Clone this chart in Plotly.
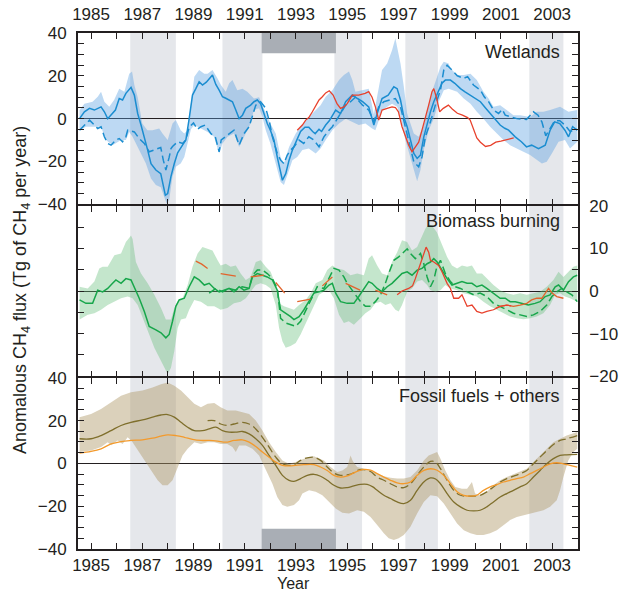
import plotly.graph_objects as go

# ---------------- data ----------------
YEAR_TICKS = [1985, 1987, 1989, 1991, 1993, 1995, 1997, 1999, 2001, 2003]
GREY_START = [1986.53, 1990.13, 1994.5, 1997.27, 2002.11]
GREY_END = [1988.31, 1991.69, 1995.58, 1998.54, 2003.44]
PINATUBO = [1991.66, 1994.56]

WET_MAIN = [(1984.55,0),(1984.74,3.2),(1984.94,4.8),(1985.13,4.0),(1985.39,5.5),(1985.52,3.2),(1985.65,0),(1985.8,2),(1985.95,4),(1986.1,9.4),(1986.23,8.7),(1986.36,11.8),(1986.56,14.6),(1986.69,11),(1986.82,2.4),(1986.95,-3),(1987.08,-8.5),(1987.21,-14.7),(1987.34,-21),(1987.53,-24),(1987.72,-25.7),(1987.82,-31),(1987.9,-35.8),(1987.99,-35),(1988.12,-27),(1988.25,-21),(1988.38,-16),(1988.57,-12.4),(1988.7,-10),(1988.83,0),(1988.96,11),(1989.09,14),(1989.22,17.2),(1989.35,15.7),(1989.5,17),(1989.74,20.4),(1989.87,16),(1990.0,13.3),(1990.13,10.2),(1990.26,9.5),(1990.4,8.5),(1990.52,7.9),(1990.65,4),(1990.78,0),(1990.91,1.6),(1991.04,4.8),(1991.23,6.3),(1991.36,7.9),(1991.49,8.7),(1991.62,7),(1991.75,2.4),(1991.88,-2.3),(1992.0,-5.4),(1992.14,-10),(1992.27,-18),(1992.4,-25.7),(1992.47,-28.8),(1992.6,-25.7),(1992.73,-19.4),(1992.86,-14.7),(1993.05,-9),(1993.18,-6),(1993.35,-4),(1993.5,-4),(1993.65,-6),(1993.75,-7),(1993.9,-5),(1994.0,-6),(1994.16,-3),(1994.3,-1),(1994.55,4),(1994.74,2.4),(1994.94,7.9),(1995.2,11),(1995.4,9.4),(1995.6,7.9),(1995.84,5.5),(1996.04,-3),(1996.17,2.4),(1996.36,9.4),(1996.6,11),(1996.82,14.9),(1996.95,14),(1997.08,8.7),(1997.21,0.8),(1997.34,-3.8),(1997.47,-10),(1997.6,-16.3),(1997.73,-18.6),(1997.86,-17),(1997.99,-8.5),(1998.12,-2.3),(1998.25,3.2),(1998.38,7.9),(1998.57,12.6),(1998.7,16.5),(1998.83,18),(1999.03,18),(1999.2,16.5),(1999.42,14),(1999.6,12.5),(1999.8,11),(2000.0,9.5),(2000.2,7.9),(2000.4,5),(2000.58,2.4),(2000.78,-0.5),(2000.97,-3),(2001.15,-4.5),(2001.3,-5.4),(2001.56,-8.5),(2001.8,-10.8),(2002.0,-13.2),(2002.2,-12.4),(2002.47,-14),(2002.73,-12.4),(2002.92,-5.4),(2003.1,-1.5),(2003.3,-2.3),(2003.5,-5.4),(2003.64,-8.5),(2003.8,-3.8),(2003.98,-5.4)]
WET_DASH = [(1984.55,-5.4),(1984.74,-3),(1984.94,-0.7),(1985.13,-3),(1985.26,-4.6),(1985.39,-3.8),(1985.52,-8.5),(1985.65,-11.6),(1985.78,-12.4),(1985.97,-10),(1986.1,-9.3),(1986.23,-10.8),(1986.36,-8.5),(1986.43,-5.4),(1986.69,-6.2),(1986.88,-9.3),(1987.08,-11.6),(1987.27,-15.5),(1987.6,-14),(1987.72,-13.5),(1987.82,-19.4),(1987.92,-24),(1988.05,-18),(1988.12,-14),(1988.18,-13),(1988.38,-10.8),(1988.57,-11.6),(1988.7,-10),(1988.83,-4),(1989.0,-2),(1989.15,-5),(1989.29,-3.8),(1989.45,-3),(1989.68,-7),(1989.85,-8.5),(1990.0,-15.5),(1990.08,-10),(1990.33,-7.7),(1990.58,-5.4),(1990.78,-12.4),(1990.97,-7),(1991.17,-3.8),(1991.3,0.8),(1991.43,6.3),(1991.62,7.9),(1991.82,4.8),(1991.95,-0.7),(1992.08,-8.5),(1992.27,-16.3),(1992.4,-19.4),(1992.53,-21),(1992.66,-17),(1992.79,-14.7),(1992.92,-13.2),(1993.12,-10),(1993.3,-11.6),(1993.5,-8.5),(1993.7,-10),(1993.9,-13.2),(1994.09,-8.5),(1994.29,-5.4),(1994.42,-3.8),(1994.74,2.4),(1994.94,6.3),(1995.13,7.9),(1995.32,10),(1995.6,6.3),(1995.84,4),(1996.04,-1.5),(1996.23,5.5),(1996.43,7.9),(1996.69,8.7),(1996.88,9.4),(1997.08,5.5),(1997.27,-3.8),(1997.47,-13.2),(1997.6,-20.2),(1997.79,-22.5),(1997.92,-17.9),(1998.05,-8.5),(1998.25,-1.5),(1998.44,6.3),(1998.64,13.3),(1998.77,22.7),(1998.9,25),(1999.09,22.7),(1999.3,20),(1999.55,18.8),(1999.7,19.6),(1999.93,15.7),(2000.2,13.3),(2000.35,10.2),(2000.52,7.9),(2000.71,4),(2000.91,2.4),(2001.05,4.3),(2001.17,1.6),(2001.62,0),(2002.0,-0.4),(2002.27,3.2),(2002.45,1.6),(2002.6,-1.5),(2002.75,-8),(2002.9,-5),(2003.1,-1),(2003.3,-1),(2003.5,-3),(2003.7,-6),(2003.98,-5)]
WET_UP = [(1984.55,4),(1984.74,7),(1985.06,7.9),(1985.26,10.2),(1985.39,12.6),(1985.52,7.9),(1985.71,5.5),(1985.9,8.7),(1986.1,14),(1986.3,12.6),(1986.49,21),(1986.6,22),(1986.69,15.7),(1986.82,10),(1987.0,-2.3),(1987.2,-5.4),(1987.4,-5.4),(1987.66,-4.6),(1987.79,-7),(1987.99,-10),(1988.18,-2.3),(1988.31,-0.7),(1988.5,-5.4),(1988.64,-7),(1988.77,-5.4),(1988.9,7),(1989.03,19.6),(1989.22,22.7),(1989.42,21),(1989.55,21),(1989.74,22.7),(1989.94,18.8),(1990.07,15.7),(1990.26,12.6),(1990.39,16.5),(1990.52,18),(1990.71,13.3),(1990.91,14),(1991.1,12.6),(1991.36,9.4),(1991.56,10),(1991.69,6.3),(1991.82,2.4),(1992.0,-2.3),(1992.21,-7),(1992.4,-18),(1992.53,-21),(1992.73,-13.2),(1992.99,-7),(1993.18,-3.8),(1993.57,1.6),(1993.96,6.3),(1994.16,10.2),(1994.42,13.3),(1994.68,18),(1994.87,20.4),(1995.07,22),(1995.2,18),(1995.32,12.6),(1995.6,13.3),(1995.84,14),(1996.04,2),(1996.17,10.2),(1996.36,22.7),(1996.56,25.8),(1996.75,32),(1996.88,37.5),(1996.99,30.5),(1997.08,25.8),(1997.21,14.9),(1997.34,2.4),(1997.47,-2.3),(1997.6,-7),(1997.79,-8.5),(1997.99,-3),(1998.12,4),(1998.31,12.6),(1998.51,19.6),(1998.64,24.2),(1998.77,26.6),(1998.96,25.8),(1999.03,23.5),(1999.29,20.4),(1999.55,20.4),(1999.81,21),(2000.06,18),(2000.32,12.6),(2000.52,9.4),(2000.71,5.5),(2000.97,6.3),(2001.23,4),(2001.49,1.6),(2001.75,1.6),(2002.14,0.8),(2002.4,3.2),(2002.66,3.2),(2002.92,4),(2003.31,5.5),(2003.64,3.2),(2003.98,4)]
WET_LO = [(1984.55,-5.4),(1984.8,-3.8),(1985.06,-3.8),(1985.39,-3.8),(1985.58,-10),(1985.84,-12.4),(1986.17,-10),(1986.36,-10),(1986.49,-6.2),(1986.62,-8.5),(1986.75,-11.6),(1986.95,-16.3),(1987.14,-21),(1987.34,-28),(1987.53,-31),(1987.72,-32),(1987.86,-36.6),(1987.95,-39.7),(1988.05,-38),(1988.18,-27),(1988.31,-22.5),(1988.5,-21),(1988.64,-17.9),(1988.77,-10.8),(1988.9,-5),(1989.03,-3),(1989.29,-4.6),(1989.55,-6.2),(1989.8,-8.5),(1990.0,-16.3),(1990.13,-11.6),(1990.33,-8.5),(1990.58,-7),(1990.78,-13.2),(1990.97,-8.5),(1991.23,-2.3),(1991.36,4),(1991.56,4.8),(1991.69,0.8),(1991.82,-5.4),(1992.0,-11.6),(1992.21,-21),(1992.4,-29.6),(1992.53,-31),(1992.66,-27),(1992.86,-19.4),(1993.05,-17.9),(1993.25,-14.7),(1993.5,-14),(1993.77,-16.3),(1993.96,-14),(1994.16,-10),(1994.42,-5.4),(1994.68,-2.3),(1994.94,0),(1995.2,-1.5),(1995.45,-3),(1995.71,-2.3),(1995.97,-4.6),(1996.1,-5.4),(1996.23,-1),(1996.36,4),(1996.56,5.5),(1996.75,7),(1996.95,5.5),(1997.08,0.8),(1997.27,-10),(1997.47,-17.9),(1997.6,-24),(1997.73,-29.3),(1997.86,-24),(1997.99,-14.7),(1998.18,-5.4),(1998.38,0),(1998.57,7.9),(1998.77,13.3),(1998.96,14),(1999.03,14),(1999.29,12.6),(1999.55,9.4),(1999.81,7),(2000.06,3.2),(2000.32,0),(2000.58,-3.8),(2000.84,-7),(2001.1,-10),(2001.36,-12.4),(2001.62,-14),(2001.88,-15.5),(2002.14,-17),(2002.4,-19.4),(2002.6,-21),(2002.79,-20.2),(2002.99,-16.3),(2003.25,-10.8),(2003.5,-10),(2003.7,-14),(2003.98,-10.8)]
WET_RED = [(1993.05,-5.4),(1993.25,-3),(1993.38,-0.7),(1993.5,0.5),(1993.64,3.2),(1993.77,6.3),(1993.9,8.7),(1994.03,10.2),(1994.16,12),(1994.3,13),(1994.45,11),(1994.6,7),(1994.74,4.8),(1994.87,5.5),(1995.0,7),(1995.2,11),(1995.45,11),(1995.7,11.8),(1995.84,12.6),(1995.97,10),(1996.1,5.5),(1996.23,-0.7),(1996.36,4),(1996.56,4.8),(1996.75,5.5),(1996.88,5.2),(1997.0,3.2),(1997.14,-3.8),(1997.27,-8.5),(1997.4,-12.4),(1997.53,-15.5),(1997.66,-13),(1997.79,-11),(1997.92,-5.4),(1998.05,0),(1998.18,6.3),(1998.31,12.6),(1998.38,14),(1998.48,10),(1998.61,3.2),(1998.75,4.8),(1998.95,6.3),(1999.1,4.5),(1999.3,2.5),(1999.5,1.6),(1999.7,0.5),(1999.8,-0.7),(1999.93,-5.4),(2000.06,-9),(2000.2,-11),(2000.4,-13),(2000.6,-12.5),(2000.8,-11),(2001.0,-10.5),(2001.2,-10),(2001.36,-9.3),(2001.5,-9)]

BB_MAIN = [(1984.55,-2.1),(1984.8,-2.9),(1985.06,-2.9),(1985.26,0.2),(1985.45,-0.2),(1985.65,0.6),(1985.84,1.8),(1985.97,2.6),(1986.17,1.8),(1986.36,2.9),(1986.56,2.6),(1986.69,1),(1986.88,-1.7),(1987.08,-4.8),(1987.27,-8.3),(1987.53,-9.1),(1987.73,-9.8),(1987.92,-11),(1988.05,-10.2),(1988.18,-7.1),(1988.31,-3.6),(1988.44,-2.1),(1988.64,-1.7),(1988.83,1),(1989.03,3.3),(1989.22,2.6),(1989.42,1.4),(1989.61,1.8),(1989.81,0.6),(1990.0,-0.2),(1990.19,0.2),(1990.39,0.6),(1990.58,-0.2),(1990.78,1),(1990.97,0.2),(1991.17,0.6),(1991.3,3.3),(1991.49,4.1),(1991.69,3.7),(1991.88,3.3),(1992.08,2.6),(1992.27,0.2),(1992.4,-4.4),(1992.6,-5.2),(1992.79,-6),(1992.92,-6.7),(1993.12,-6),(1993.31,-4.4),(1993.5,-2.5),(1993.7,-0.5),(1993.9,-0.2),(1994.09,0.2),(1994.29,1.4),(1994.42,1.8),(1994.55,-0.5),(1994.74,-2.5),(1995.0,-2.9),(1995.26,-2.9),(1995.45,-1.3),(1995.65,0.6),(1995.84,2.2),(1995.97,1.8),(1996.17,0.6),(1996.36,-0.2),(1996.56,1),(1996.75,1.8),(1996.95,2.9),(1997.14,4.1),(1997.34,4.5),(1997.53,3.7),(1997.73,4.9),(1997.92,5.3),(1998.12,6.4),(1998.25,6.8),(1998.38,7.6),(1998.51,6.8),(1998.7,4.9),(1998.9,2.9),(1999.09,1.4),(1999.29,1.8),(1999.48,2.2),(1999.68,1.8),(1999.87,1.8),(2000.06,1),(2000.26,1.4),(2000.45,0.6),(2000.71,-0.5),(2000.97,-1.7),(2001.17,-1.7),(2001.36,-2.5),(2001.56,-2.5),(2001.82,-2.9),(2002.07,-3.3),(2002.33,-2.9),(2002.53,-2.5),(2002.73,-1.3),(2002.92,-0.9),(2003.12,1),(2003.25,1.4),(2003.44,0.2),(2003.64,2.2),(2003.83,3.3),(2003.98,3.7)]
BB_DASH = [(1989.61,-0.5),(1989.87,0.6),(1990.13,-0.2),(1990.39,0.6),(1990.65,0.2),(1990.9,1),(1991.17,0.6),(1991.3,3.7),(1991.49,4.9),(1991.69,4.9),(1991.88,4.1),(1992.08,2.9),(1992.27,0.6),(1992.4,-6.4),(1992.6,-7.5),(1992.79,-7.9),(1992.99,-8.3),(1993.18,-7.1),(1993.44,-4),(1993.7,-0.9),(1993.83,1),(1994.09,0.6),(1994.29,2.9),(1994.48,5.3),(1994.68,4.9),(1994.87,3.3),(1995.0,1.8),(1995.13,0.6),(1995.32,-0.9),(1995.52,-2.5),(1995.71,-3.6),(1995.91,-3.6),(1996.1,-2.5),(1996.3,-0.9),(1996.49,1.8),(1996.62,4.1),(1996.82,7.2),(1997.01,8),(1997.2,9.1),(1997.34,9.9),(1997.47,8.8),(1997.66,7.6),(1997.86,8.8),(1997.99,6.4),(1998.12,3.3),(1998.25,1),(1998.38,2.6),(1998.5,5.7),(1998.64,7.2),(1998.83,4.1),(1999.03,2.2),(1999.22,1),(1999.42,0.6),(1999.68,-0.2),(1999.94,-0.9),(2000.19,-0.5),(2000.45,-1.3),(2000.71,-2.9),(2000.97,-3.6),(2001.23,-4.4),(2001.49,-5.2),(2001.75,-5.6),(2002.01,-6),(2002.27,-5.6),(2002.53,-4.8),(2002.79,-3.3),(2002.99,-1.3),(2003.18,-0.2),(2003.38,0.6),(2003.57,-0.2),(2003.77,-0.9),(2003.98,-2.5)]
BB_UP = [(1984.55,1),(1984.87,0.6),(1985.13,2.2),(1985.32,5.3),(1985.45,5.7),(1985.65,5.7),(1985.91,8.4),(1986.17,8.8),(1986.36,11.5),(1986.56,13),(1986.62,12.2),(1986.75,6.8),(1986.95,4.1),(1987.21,1.8),(1987.47,-0.9),(1987.73,-4),(1987.92,-6.7),(1988.12,-6.7),(1988.25,-4),(1988.38,-2.5),(1988.57,-1.7),(1988.77,1.4),(1988.96,5.7),(1989.16,8.8),(1989.35,10.3),(1989.55,9.9),(1989.74,9.5),(1989.94,7.2),(1990.06,6),(1990.26,6.4),(1990.45,5.7),(1990.65,6),(1990.84,4.1),(1991.04,2.6),(1991.23,3.3),(1991.43,6.8),(1991.62,7.2),(1991.82,5.7),(1992.01,4.5),(1992.21,1.4),(1992.34,-2.9),(1992.53,-3.6),(1992.73,-4),(1992.92,-4.4),(1993.12,-3.3),(1993.38,-2.1),(1993.57,-0.5),(1993.77,1.8),(1994.03,2.6),(1994.22,4.9),(1994.42,6),(1994.6,5.3),(1994.87,4.9),(1995.13,3.7),(1995.39,4.1),(1995.65,3.7),(1995.84,7.6),(1995.97,8.4),(1996.17,6),(1996.36,4.1),(1996.56,3.7),(1996.75,6.8),(1996.95,9.1),(1997.14,11.9),(1997.34,11.5),(1997.53,9.5),(1997.73,10.3),(1997.86,11.9),(1998.05,14.6),(1998.18,15.7),(1998.31,15.3),(1998.5,13.8),(1998.7,11.1),(1998.9,8),(1999.09,6),(1999.29,5.3),(1999.48,6),(1999.68,5.7),(1999.87,6),(2000.06,4.1),(2000.26,4.1),(2000.45,2.9),(2000.71,1.4),(2000.97,0.2),(2001.23,-0.5),(2001.49,-0.9),(2001.75,-0.5),(2002.01,-0.9),(2002.27,-0.5),(2002.53,-0.2),(2002.79,1),(2003.05,2.6),(2003.25,4.5),(2003.44,3.3),(2003.64,4.5),(2003.83,5.7),(2003.98,6)]
BB_LO = [(1984.55,-6.7),(1984.87,-5.6),(1985.13,-5.2),(1985.39,-4.4),(1985.65,-3.3),(1985.91,-2.5),(1986.17,-1.7),(1986.43,-1.3),(1986.62,-1.7),(1986.82,-3.3),(1987.08,-7.1),(1987.27,-10.2),(1987.47,-13.3),(1987.66,-15.7),(1987.86,-18),(1987.99,-19.5),(1988.12,-18),(1988.25,-14.1),(1988.38,-8.7),(1988.51,-6.7),(1988.7,-6.4),(1988.83,-4.4),(1989.03,-2.1),(1989.29,-2.5),(1989.55,-3.6),(1989.81,-3.6),(1990.06,-4.4),(1990.32,-4),(1990.58,-2.9),(1990.84,-2.5),(1991.04,-1.7),(1991.23,-0.2),(1991.43,1.4),(1991.62,1.8),(1991.82,1.4),(1992.01,0.6),(1992.21,-3.3),(1992.34,-8.7),(1992.47,-11.8),(1992.6,-13.3),(1992.79,-12.9),(1992.99,-12.2),(1993.18,-10.2),(1993.44,-7.1),(1993.7,-3.6),(1993.9,-0.9),(1994.09,-0.2),(1994.29,0.2),(1994.48,-1.7),(1994.68,-5.6),(1994.87,-7.5),(1995.06,-7.1),(1995.26,-7.9),(1995.52,-6.4),(1995.71,-5.2),(1995.91,-4.4),(1996.1,-2.9),(1996.3,-2.5),(1996.49,-3.3),(1996.69,-2.9),(1996.88,-4.4),(1997.01,-4.8),(1997.14,-3.3),(1997.34,-0.2),(1997.53,0.6),(1997.73,2.2),(1997.92,2.6),(1998.12,1.4),(1998.25,0.2),(1998.44,-0.2),(1998.64,0.2),(1998.83,1.4),(1999.03,0.6),(1999.29,0.2),(1999.55,-0.5),(1999.81,-0.9),(2000.06,-1.3),(2000.32,-2.5),(2000.58,-3.6),(2000.84,-4.4),(2001.1,-5.2),(2001.36,-6),(2001.62,-6.4),(2001.88,-6.6),(2002.14,-6.4),(2002.4,-6),(2002.66,-5.2),(2002.92,-3.3),(2003.12,-0.9),(2003.31,-0.5),(2003.5,-1.3),(2003.7,-1.7),(2003.98,-2.5)]
BB_ORANGE = [(1989.09,7),(1989.32,6.3),(1989.55,5.3),None,(1990.06,4.1),(1990.65,3.5),None,(1991.23,3.3),(1991.75,3.7),None,(1992.21,2),(1992.56,-0.5),None,(1993.05,-2.5),(1993.57,-1.9),None,(1994.03,1.2),(1994.42,3.3),None,(1994.94,1.8),(1995.5,0.2),None,(1996.1,0.2),(1996.56,-0.9),None,(2000.8,-4),(2000.97,-3.6),(2001.23,-3.3),(2001.49,-3.6),(2001.75,-3.3),(2002.01,-2.9),(2002.2,-2.1),(2002.4,-1.7),(2002.6,-1.7),(2002.73,-0.5),(2002.86,0.6),(2003.0,-0.5),(2003.18,-1.3),(2003.44,-1.7)]
BB_RED = [(1996.95,-0.9),(1997.14,0),(1997.4,0.6),(1997.55,1.2),(1997.66,2.9),(1997.79,5.3),(1997.92,7.5),(1998.0,8.8),(1998.08,10.3),(1998.18,9.1),(1998.25,7.2),(1998.38,6.8),(1998.57,6),(1998.7,4.5),(1998.9,1.8),(1999.03,0.6),(1999.16,-1.7),(1999.35,-1.7),(1999.48,-0.9),(1999.68,-3.6),(1999.87,-3.3),(2000.06,-4.8),(2000.26,-5.2),(2000.45,-4.8),(2000.71,-4.4),(2000.97,-3.6),(2001.23,-3.3),(2001.4,-3.5)]

FF_MAIN = [(1984.55,11.5),(1985.0,11.5),(1985.39,13),(1985.78,15.3),(1986.17,17.7),(1986.56,19.2),(1987.01,20.3),(1987.4,21.6),(1987.73,22.6),(1987.99,22.8),(1988.25,21.6),(1988.51,19.2),(1988.77,16.9),(1989.03,15.3),(1989.35,15.3),(1989.61,16.1),(1989.87,16.9),(1990.13,15.3),(1990.39,14.6),(1990.65,14.6),(1990.91,14.9),(1991.17,13.8),(1991.43,11.5),(1991.69,8.4),(1991.95,3.7),(1992.21,-0.9),(1992.47,-5.6),(1992.73,-7.9),(1992.92,-8.4),(1993.18,-7.1),(1993.44,-5.6),(1993.7,-5.1),(1993.96,-6),(1994.22,-7.9),(1994.48,-10.2),(1994.74,-11.5),(1995.0,-11.3),(1995.26,-10.5),(1995.52,-9.8),(1995.78,-9.8),(1996.0,-11),(1996.17,-12.6),(1996.43,-14.9),(1996.69,-16.4),(1996.95,-18),(1997.21,-18.8),(1997.47,-17.2),(1997.73,-12.6),(1997.99,-8.7),(1998.25,-6.8),(1998.45,-7.3),(1998.64,-9.5),(1998.9,-14.1),(1999.16,-18),(1999.42,-20.3),(1999.68,-21.9),(1999.94,-22.2),(2000.19,-21.9),(2000.45,-20.3),(2000.71,-18),(2000.97,-15.7),(2001.23,-14.1),(2001.49,-12.6),(2001.75,-11),(2002.01,-9.5),(2002.27,-6.4),(2002.53,-3.3),(2002.79,-0.2),(2003.05,2.2),(2003.31,3.7),(2003.57,4),(2003.98,4.2)]
FF_DASH = [(1989.55,20),(1989.81,20),(1990.06,18.4),(1990.32,17.7),(1990.58,18.4),(1990.91,19.2),(1991.17,18.4),(1991.43,16.1),(1991.69,12.2),(1991.95,7.6),(1992.21,2.9),(1992.47,-0.2),(1992.73,-0.9),(1992.92,-0.6),(1993.18,1.4),(1993.44,2.6),(1993.7,2.9),(1993.96,1.4),(1994.22,-1.7),(1994.48,-4.5),(1994.74,-5.6),(1995.0,-5.4),(1995.26,-4.4),(1995.39,-3.3),(1995.65,-2.9),(1995.91,-3.8),(1996.17,-6.4),(1996.43,-7.9),(1996.69,-9.5),(1996.95,-11),(1997.21,-11.3),(1997.47,-9.5),(1997.73,-5.6),(1997.99,-1.7),(1998.25,0.9),(1998.45,0.6),(1998.64,-2.5),(1998.9,-7.9),(1999.16,-12.6),(1999.42,-14.9),(1999.68,-15.3),(1999.94,-15.3),(2000.19,-14.9),(2000.45,-13.3),(2000.71,-11),(2000.97,-8.7),(2001.23,-7.1),(2001.49,-6),(2001.75,-4.8),(2002.01,-3.3),(2002.27,-0.2),(2002.53,2.9),(2002.79,6),(2003.05,8.8),(2003.31,10.7),(2003.57,11.5),(2003.98,13)]
FF_ORANGE = [(1984.55,4.8),(1985.0,5.6),(1985.39,6.8),(1985.78,9.1),(1986.17,10.2),(1986.56,10.7),(1987.01,11),(1987.4,11.8),(1987.73,12.7),(1987.99,13.3),(1988.31,13),(1988.64,12.2),(1988.96,11.2),(1989.29,10.7),(1989.61,10.7),(1989.94,10.4),(1990.26,9.9),(1990.58,10.7),(1990.91,11),(1991.17,9.9),(1991.43,7.9),(1991.69,5.3),(1991.95,2.9),(1992.21,0.6),(1992.47,-0.9),(1992.73,-1.2),(1992.99,-0.9),(1993.31,-0.6),(1993.7,-0.6),(1993.96,-1.7),(1994.22,-3.3),(1994.48,-5.6),(1994.74,-6.4),(1994.97,-6),(1995.2,-4.8),(1995.39,-3.7),(1995.65,-2.8),(1995.91,-3.2),(1996.17,-4.8),(1996.43,-6.4),(1996.69,-7.9),(1996.95,-9.1),(1997.21,-9.5),(1997.47,-8.7),(1997.73,-5.6),(1997.99,-3.3),(1998.25,-2.5),(1998.51,-3.2),(1998.77,-5.6),(1999.03,-9.5),(1999.29,-13.3),(1999.55,-14.9),(1999.81,-15.3),(2000.06,-14.9),(2000.32,-12.6),(2000.58,-11),(2000.84,-9.9),(2001.1,-8.7),(2001.36,-7.9),(2001.62,-7.1),(2001.88,-6.4),(2002.14,-4.8),(2002.4,-3.3),(2002.66,-1.7),(2002.92,-0.2),(2003.18,0.3),(2003.44,-0.2),(2003.7,-0.9),(2003.98,-1.7)]
FF_UP = [(1984.55,21.6),(1985.0,23.1),(1985.39,25.4),(1985.78,28.5),(1986.17,31.6),(1986.56,33.2),(1987.01,34),(1987.4,35.5),(1987.73,37),(1987.99,37.8),(1988.25,36.3),(1988.51,34),(1988.77,30.9),(1989.03,27.8),(1989.29,26.2),(1989.55,27.8),(1989.81,28.2),(1990.06,26.2),(1990.32,24.7),(1990.65,24.7),(1990.91,23.9),(1991.17,23.1),(1991.43,20),(1991.69,15.3),(1991.95,9.9),(1992.21,5.3),(1992.47,1.4),(1992.73,-0.2),(1992.99,0.6),(1993.31,2.2),(1993.7,3.3),(1994.09,1.4),(1994.35,-1.7),(1994.61,-4),(1994.81,-3.3),(1995.0,-1.7),(1995.13,3.7),(1995.22,1),(1995.39,-1.7),(1995.65,-2.5),(1995.91,-3.3),(1996.17,-4.8),(1996.43,-6),(1996.69,-6.7),(1996.95,-7.1),(1997.21,-7.1),(1997.47,-6.4),(1997.73,-3.3),(1997.99,1.4),(1998.18,3.7),(1998.38,4.5),(1998.51,5.3),(1998.64,2.2),(1998.83,-3.3),(1999.03,-7.9),(1999.22,-11),(1999.48,-11.8),(1999.68,-11.8),(1999.87,-8.7),(1999.99,-14.1),(2000.19,-14.9),(2000.45,-13.3),(2000.71,-10.2),(2000.97,-7.9),(2001.23,-6.4),(2001.49,-5.1),(2001.75,-4),(2002.01,-2.5),(2002.27,0.6),(2002.53,3.7),(2002.79,6.8),(2003.05,9.9),(2003.31,11.5),(2003.57,13),(2003.98,14.6)]
FF_LO = [(1984.55,5.3),(1985.0,6),(1985.39,7.6),(1985.65,9.9),(1985.78,8.5),(1986.04,10.7),(1986.23,9.1),(1986.43,12.2),(1986.62,9.9),(1986.82,6),(1987.08,1.4),(1987.34,-3.3),(1987.6,-7.9),(1987.79,-10.2),(1987.99,-10.2),(1988.18,-7.9),(1988.38,-1.7),(1988.57,3.7),(1988.77,6.8),(1989.03,9.9),(1989.29,9.1),(1989.55,9.9),(1989.81,9.9),(1990.06,9.1),(1990.32,9.1),(1990.52,7.6),(1990.65,5.3),(1990.78,8.4),(1991.04,8.4),(1991.3,6.8),(1991.56,3.7),(1991.82,-2.5),(1992.08,-9.5),(1992.27,-15.7),(1992.47,-19.5),(1992.66,-20.3),(1992.92,-19.5),(1993.12,-17.2),(1993.25,-14.1),(1993.51,-12.6),(1993.77,-13.3),(1994.03,-14.9),(1994.29,-18),(1994.55,-21.1),(1994.81,-23.1),(1995.07,-23.4),(1995.39,-21.9),(1995.65,-22.6),(1995.91,-25),(1996.17,-28.8),(1996.43,-32.7),(1996.62,-35),(1996.82,-35.8),(1997.01,-35),(1997.21,-33.5),(1997.47,-29.6),(1997.73,-23.4),(1997.99,-18),(1998.25,-14.9),(1998.51,-15.3),(1998.77,-18.8),(1999.03,-23.4),(1999.29,-28.1),(1999.55,-31.2),(1999.81,-32.7),(2000.06,-33.5),(2000.32,-33.5),(2000.58,-32.7),(2000.84,-31.2),(2001.1,-28.8),(2001.36,-26.5),(2001.62,-25),(2001.88,-24.2),(2002.14,-23.4),(2002.4,-22.6),(2002.66,-21.9),(2002.92,-20.3),(2003.18,-17.2),(2003.31,-12.6),(2003.44,-6.4),(2003.63,1.4),(2003.83,5.3),(2003.98,6.8)]

# ---------------- helpers ----------------
def xs(p):
    return [q[0] if q is not None else None for q in p]

def ys(p):
    return [q[1] if q is not None else None for q in p]

INK = "#231f20"
FONT = "Liberation Sans, Arial, Helvetica, sans-serif"

fig = go.Figure()

def band(up, lo, color, xa, ya):
    fig.add_trace(go.Scatter(x=xs(up) + xs(lo)[::-1], y=ys(up) + ys(lo)[::-1],
                             fill="toself", fillcolor=color, line=dict(width=0),
                             mode="lines", hoverinfo="skip", showlegend=False,
                             xaxis=xa, yaxis=ya))

def line(p, color, xa, ya, width=1.5, dash="solid", shape="linear"):
    fig.add_trace(go.Scatter(x=xs(p), y=ys(p), mode="lines",
                             line=dict(color=color, width=width, dash=dash, shape=shape),
                             connectgaps=False, showlegend=False, xaxis=xa, yaxis=ya))

BLUE = "#1b8dd0"
GREEN = "#17a64b"
RED = "#e8412c"
ORANGE2 = "#e2642c"
ORANGE3 = "#f39a2c"
OLIVE = "#7f6f2c"
DASH = "8px,4px"

# Wetlands
band(WET_UP, WET_LO, "rgba(90,160,225,0.40)", "x", "y")
line(WET_DASH, BLUE, "x", "y", dash=DASH)
line(WET_MAIN, BLUE, "x", "y")
line(WET_RED, RED, "x", "y", width=1.3)

# Biomass burning
band(BB_UP, BB_LO, "rgba(100,190,120,0.38)", "x2", "y2")
line(BB_DASH, GREEN, "x2", "y2", dash=DASH)
line(BB_MAIN, GREEN, "x2", "y2")
line(BB_ORANGE, ORANGE2, "x2", "y2", width=1.3)
line(BB_RED, RED, "x2", "y2", width=1.3)

# Fossil fuels + others
band(FF_UP, FF_LO, "rgba(176,152,104,0.45)", "x3", "y3")
line(FF_DASH, OLIVE, "x3", "y3", width=1.3, dash=DASH, shape="spline")
line(FF_MAIN, OLIVE, "x3", "y3", width=1.3, shape="spline")
line(FF_ORANGE, ORANGE3, "x3", "y3", width=1.3, shape="spline")

# grey periods
shapes = []
for a, b in zip(GREY_START, GREY_END):
    shapes.append(dict(type="rect", xref="x", yref="paper", x0=a, x1=b, y0=0, y1=1,
                       fillcolor="#e5e7eb", line=dict(width=0), layer="below"))
shapes.append(dict(type="rect", xref="x", yref="y", x0=PINATUBO[0], x1=PINATUBO[1],
                   y0=30.5, y1=40, fillcolor="#a9aeb5", line=dict(width=0), layer="below"))
shapes.append(dict(type="rect", xref="x3", yref="y3", x0=PINATUBO[0], x1=PINATUBO[1],
                   y0=-40, y1=-30.5, fillcolor="#a9aeb5", line=dict(width=0), layer="below"))

XLW = 1.5
YLW = 1.8
GAP = (XLW / 2) / 516.0   # lets the touching axis lines of neighbouring panels coincide

XR = [1984.49, 2004.01]
def xaxis(side, labels, standoff, **kw):
    d = dict(range=XR, side=side, showticklabels=labels, automargin=False,
             tickvals=YEAR_TICKS, ticktext=[str(v) for v in YEAR_TICKS],
             ticks="inside", ticklen=6, tickwidth=1.2, tickcolor=INK,
             minor=dict(ticks="inside", dtick=1, tick0=1985, ticklen=6, tickwidth=1.2, tickcolor=INK),
             showline=True, linewidth=XLW, linecolor=INK, mirror="ticks",
             showgrid=False, zeroline=False,
             tickfont=dict(size=17, color=INK, family=FONT), ticklabelstandoff=standoff)
    d.update(kw)
    return d

def yaxis(dom, rng, vals, side="left", minor_dt=5):
    return dict(domain=dom, range=rng, side=side, tickvals=vals, automargin=False,
                ticks="inside", ticklen=6, tickwidth=1.2, tickcolor=INK,
                minor=dict(ticks="inside", dtick=minor_dt, tick0=0, ticklen=6, tickwidth=1.2, tickcolor=INK),
                showline=True, linewidth=YLW, linecolor=INK, mirror="ticks",
                showgrid=False, zeroline=True, zerolinecolor=INK, zerolinewidth=1.3,
                tickfont=dict(size=17, color=INK, family=FONT), ticklabelstandoff=6)

fig.update_layout(
    width=624, height=593,
    margin=dict(l=78, r=46, t=33, b=44),
    paper_bgcolor="white", plot_bgcolor="white",
    font=dict(family=FONT, color=INK),
    shapes=shapes,
    xaxis=xaxis("top", True, 4, anchor="y"),
    xaxis2=xaxis("bottom", False, 0, anchor="y2", matches="x"),
    xaxis3=xaxis("bottom", True, 0, anchor="y3", matches="x"),
    yaxis=yaxis([2/3 + GAP, 1], [-40, 40], [-40, -20, 0, 20, 40]),
    yaxis2=yaxis([1/3 + GAP, 2/3 - GAP], [-20, 20], [-20, -10, 0, 10, 20], side="right"),
    yaxis3=yaxis([0, 1/3 - GAP], [-40, 40], [-40, -20, 0, 20, 40]),
    annotations=[
        dict(text="Wetlands", xref="paper", yref="paper", x=0.968, y=0.9638,
             xanchor="right", yanchor="middle", showarrow=False, font=dict(size=18)),
        dict(text="Biomass burning", xref="paper", yref="paper", x=0.968, y=0.6357,
             xanchor="right", yanchor="middle", showarrow=False, font=dict(size=18)),
        dict(text="Fossil fuels + others", xref="paper", yref="paper", x=0.968, y=0.2965,
             xanchor="right", yanchor="middle", showarrow=False, font=dict(size=18)),
        dict(text="Year", xref="paper", yref="paper", x=0.43, y=-0.066,
             xanchor="center", yanchor="middle", showarrow=False, font=dict(size=16)),
        dict(text="Anomalous CH<sub>4</sub> flux (Tg of CH<sub>4</sub> per year)",
             xref="paper", yref="paper", x=-0.112, y=0.502, textangle=-90,
             xanchor="center", yanchor="middle", showarrow=False, font=dict(size=18)),
    ],
)

fig.write_html("out.html")
